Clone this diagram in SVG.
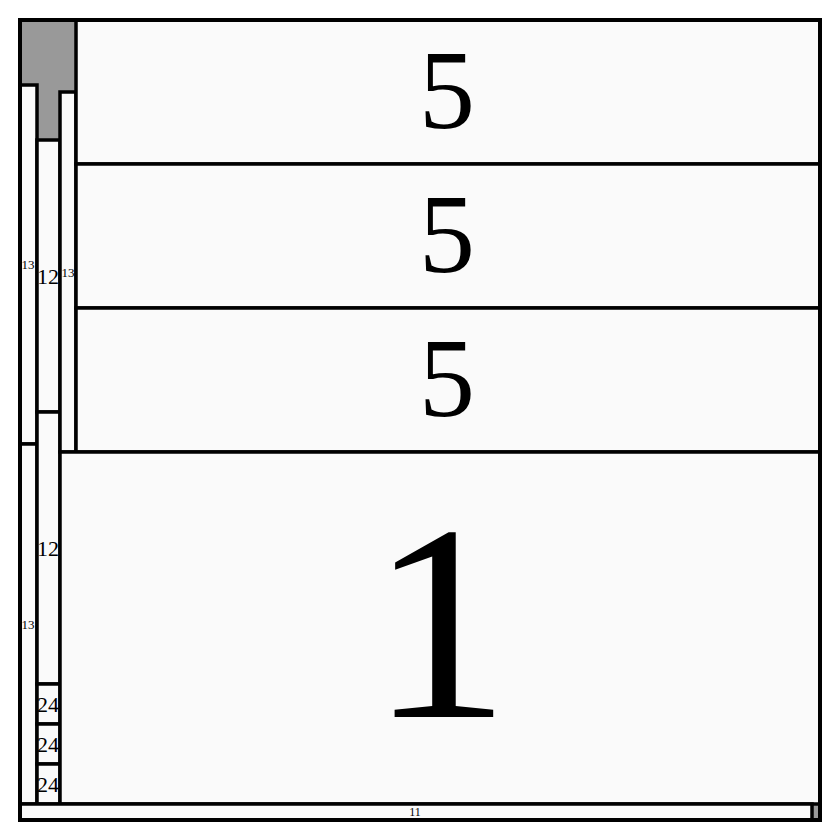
<svg xmlns="http://www.w3.org/2000/svg" width="840" height="840" viewBox="0 0 840 840">
<style>
.n{fill:#fafafa;stroke:#000;stroke-width:3.5}
.t{font-family:"Liberation Serif","Times New Roman",serif;fill:#000;text-anchor:middle}
.c{dominant-baseline:central}
</style>
<rect x="20" y="20" width="800" height="800" fill="#999999" stroke="#000" stroke-width="4"/>
<g id="a1"><rect class="n" x="20" y="85" width="17" height="359"/><text class="t c" x="28" y="264" font-size="13">13</text></g>
<g id="a2"><rect class="n" x="20" y="444" width="17" height="360"/><text class="t c" x="28" y="624" font-size="13">13</text></g>
<g id="b1"><rect class="n" x="37" y="140" width="23" height="272"/><text class="t c" x="48" y="276" font-size="22">12</text></g>
<g id="b2"><rect class="n" x="37" y="412" width="23" height="272"/><text class="t c" x="48" y="548" font-size="22">12</text></g>
<g id="b3"><rect class="n" x="37" y="684" width="23" height="40"/><text class="t c" x="48" y="704" font-size="22">24</text></g>
<g id="b4"><rect class="n" x="37" y="724" width="23" height="40"/><text class="t c" x="48" y="744" font-size="22">24</text></g>
<g id="b5"><rect class="n" x="37" y="764" width="23" height="40"/><text class="t c" x="48" y="784" font-size="22">24</text></g>
<g id="c1"><rect class="n" x="60" y="92" width="16" height="360"/><text class="t c" x="68" y="272" font-size="13">13</text></g>
<g id="d1"><rect class="n" x="76" y="20" width="744" height="144"/><text class="t" x="447" y="128" font-size="112">5</text></g>
<g id="d2"><rect class="n" x="76" y="164" width="744" height="144"/><text class="t" x="447" y="272" font-size="112">5</text></g>
<g id="d3"><rect class="n" x="76" y="308" width="744" height="144"/><text class="t" x="447" y="416" font-size="112">5</text></g>
<g id="e1"><rect class="n" x="60" y="452" width="760" height="352"/><text class="t" x="440" y="717" font-size="280">1</text></g>
<g id="f1"><rect class="n" x="20" y="804" width="792" height="16"/><text class="t c" x="415" y="812" font-size="12">11</text></g>
<rect x="20" y="20" width="800" height="800" fill="none" stroke="#000" stroke-width="4"/>
<g id="connectors"/>
</svg>
